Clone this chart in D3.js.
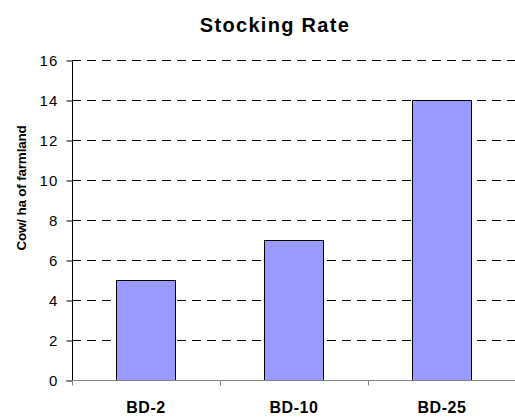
<!DOCTYPE html>
<html>
<head>
<meta charset="utf-8">
<script src="https://cdn.jsdelivr.net/npm/d3@7"></script>
<style>
  html, body { margin: 0; padding: 0; background: #fff; }
  svg { display: block; }
  text { font-family: "Liberation Sans", Arial, sans-serif; fill: #000; }
</style>
</head>
<body>
<svg id="chart" width="515" height="419"></svg>
<script>
// Stocking rate per site
const categories = ["BD-2", "BD-10", "BD-25"];
const values = [5, 7, 14];
const yTicks = [0, 2, 4, 6, 8, 10, 12, 14, 16];
const title = "Stocking Rate";
const yTitle = "Cow/ ha of farmland";

const svg = d3.select("#chart");
const plot = { left: 72, right: 516, top: 60, bottom: 380 };

const x = d3.scaleBand().domain(categories).range([plot.left, plot.right]).padding(0);
const y = d3.scaleLinear().domain([0, 16]).range([plot.bottom, plot.top]);
const barWidth = x.bandwidth() * 0.4;

// dashed horizontal gridlines
svg.append("g")
  .selectAll("line")
  .data(yTicks.filter(d => d > 0))
  .join("line")
  .attr("x1", plot.left).attr("x2", plot.right)
  .attr("y1", d => Math.round(y(d)) + 0.5).attr("y2", d => Math.round(y(d)) + 0.5)
  .attr("stroke", "#000").attr("stroke-width", 1)
  .attr("stroke-dasharray", "9,6");

// bars
svg.append("g")
  .selectAll("rect")
  .data(values)
  .join("rect")
  .attr("x", (d, i) => Math.round(x(categories[i]) + (x.bandwidth() - barWidth) / 2) + 0.5)
  .attr("y", d => Math.round(y(d)) + 0.5)
  .attr("width", Math.round(barWidth))
  .attr("height", d => Math.round(y(0)) - Math.round(y(d)))
  .attr("fill", "#9999ff")
  .attr("stroke", "#000").attr("stroke-width", 1);

// y axis
const yAxis = svg.append("g")
  .attr("transform", `translate(${plot.left + 0.5},0.5)`)
  .call(d3.axisLeft(y).tickValues(yTicks).tickSize(6).tickPadding(8).tickFormat(d3.format("d")));
yAxis.select(".domain").attr("stroke", "#000").attr("d", `M0,${plot.top}V${plot.bottom}`);
yAxis.selectAll(".tick line").attr("stroke", "#000");
yAxis.selectAll(".tick text")
  .attr("font-size", 15)
  .attr("font-family", "Liberation Sans, Arial, sans-serif")
  .attr("letter-spacing", 1.2)
  .attr("fill", "#000");

// x axis (category boundaries as tick positions)
const xAxis = svg.append("g")
  .attr("transform", `translate(0,${plot.bottom + 0.5})`);
xAxis.append("line")
  .attr("x1", plot.left - 6).attr("x2", plot.right)
  .attr("stroke", "#808080");
xAxis.selectAll(".bound")
  .data(categories.map(c => x(c)).concat([plot.right]))
  .join("line")
  .attr("class", "bound")
  .attr("x1", d => Math.round(d) + 0.5).attr("x2", d => Math.round(d) + 0.5)
  .attr("y1", 0).attr("y2", 5)
  .attr("stroke", "#808080");
xAxis.selectAll("text")
  .data(categories)
  .join("text")
  .attr("x", d => x(d) + x.bandwidth() / 2)
  .attr("y", 32)
  .attr("text-anchor", "middle")
  .attr("font-size", 16)
  .attr("font-weight", "bold")
  .attr("letter-spacing", 0.6)
  .text(d => d);

// title
svg.append("text")
  .attr("x", 275).attr("y", 32)
  .attr("text-anchor", "middle")
  .attr("font-size", 20)
  .attr("font-weight", "bold")
  .attr("letter-spacing", 1.3)
  .text(title);

// y axis title
svg.append("text")
  .attr("transform", "translate(26,188) rotate(-90)")
  .attr("text-anchor", "middle")
  .attr("font-size", 13.5)
  .attr("font-weight", "bold")
  .attr("letter-spacing", -0.2)
  .text(yTitle);
</script>
</body>
</html>
